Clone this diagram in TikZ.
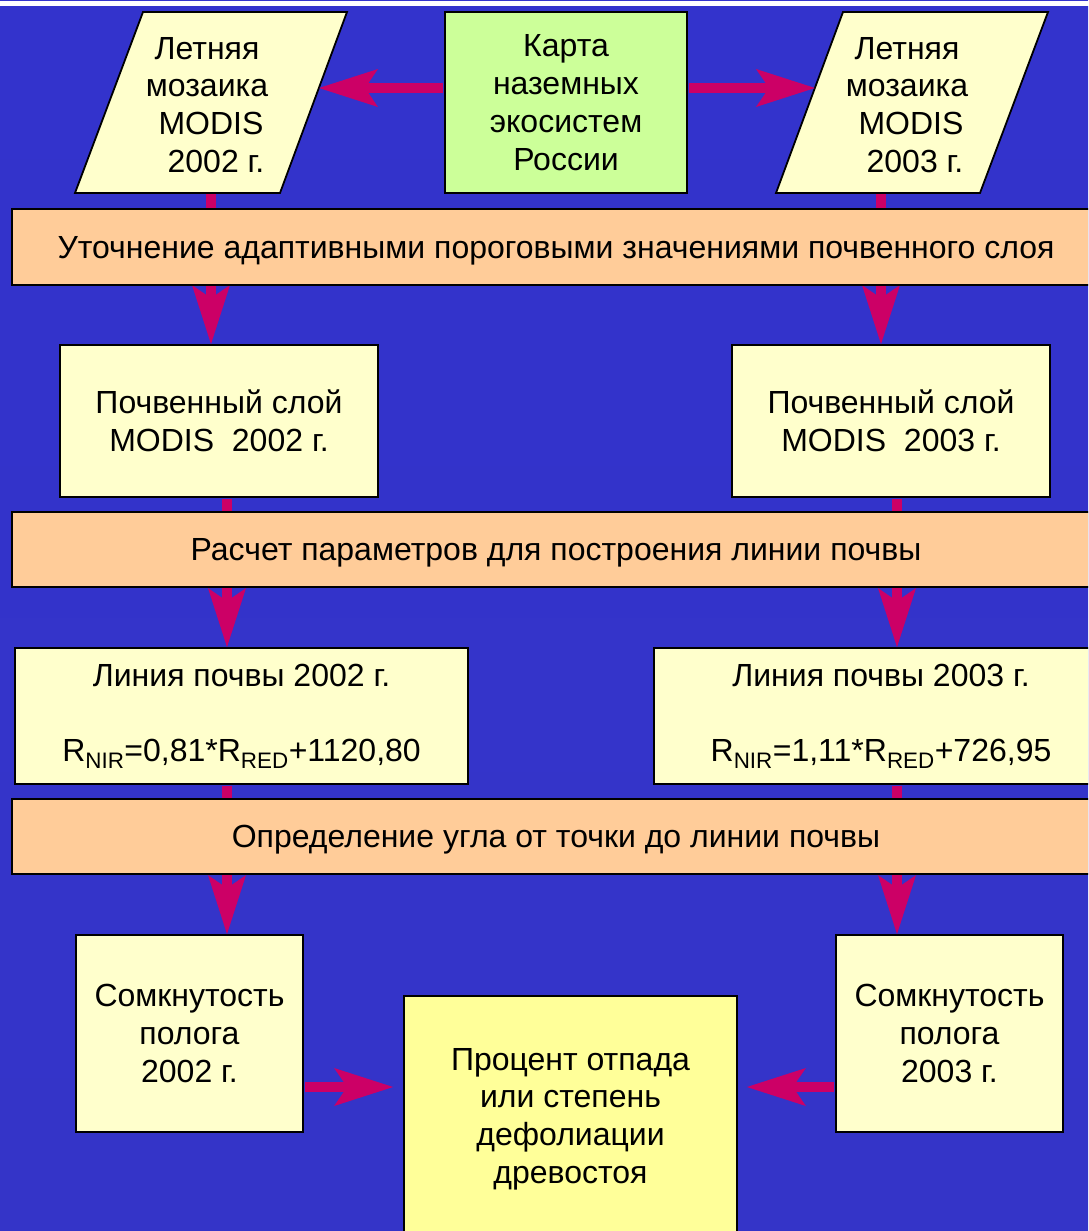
\documentclass[tikz,border=0pt]{standalone}
\usepackage{fontspec}
\setmainfont{Liberation Sans}
\usetikzlibrary{arrows.meta,calc}
\definecolor{pale}{HTML}{FFFFCC}
\definecolor{greenbox}{HTML}{CCFF99}
\definecolor{peach}{HTML}{FFCC99}
\definecolor{yellbox}{HTML}{FFFF99}
\definecolor{arrowc}{HTML}{CC0066}
\definecolor{bgA}{HTML}{3333CC}
\definecolor{bgB}{HTML}{3434F0}
\definecolor{bgC}{HTML}{3434C8}
\begin{document}
\begin{tikzpicture}[x=1pt,y=-1pt,
  txt/.style={font=\fontsize{32}{37.8}\selectfont, align=center, text=black, inner sep=0pt},
  boxst/.style={draw=black, line width=1.8pt, fill=pale, txt},
  barst/.style={draw=black, line width=1.8pt, fill=peach, txt, minimum width=1088pt, text depth=0pt},
  parast/.style={draw=black, line width=1.8pt, fill=pale, line join=miter},
  arr/.style={draw=arrowc, line width=9.5pt, shorten <=1pt,
    -{Stealth[length=59pt,width=38pt,inset=13pt,line width=0pt]}}
]
\useasboundingbox (0,0) rectangle (1088,1231);
\clip (0,0) rectangle (1088,1231);
% background
\fill[white] (0,0) rectangle (1088,1231);
\fill[bgA] (0,0) rectangle (1088,1.4);
\shade[top color=bgA, middle color=bgB, bottom color=bgC] (0,6.7) rectangle (1088,1231);

% parallelograms
\filldraw[parast] (143,12) -- (347,12) -- (280,193) -- (75,193) -- cycle;
\node[txt] (plt) at (207,105) {Летняя\\мозаика\\\hspace*{8pt}MODIS\\\hspace*{18pt}2002 г.};
\filldraw[parast] (843,12) -- (1048,12) -- (980,193) -- (776,193) -- cycle;
\node[txt] (prt) at (907,105) {Летняя\\мозаика\\\hspace*{8pt}MODIS\\\hspace*{16pt}2003 г.};
\coordinate (pLb) at (211,193);
\coordinate (pRb) at (881,193);
\coordinate (pLe) at (319,88);
\coordinate (pRe) at (815,88);

% green box
\node[boxst, fill=greenbox, minimum width=242pt, minimum height=181pt] (g) at (566,102.5)
  {Карта\\наземных\\экосистем\\России};

% boxes
\node[boxst, minimum width=318pt, minimum height=152pt] (s1) at (219,421)
  {Почвенный слой\\MODIS\ \ 2002 г.};
\node[boxst, minimum width=318pt, minimum height=152pt] (s2) at (891,421)
  {Почвенный слой\\MODIS\ \ 2003 г.};
\node[boxst, minimum width=453pt, minimum height=136pt] (l1) at (241.5,716)
  {Линия почвы 2002 г.\\[37.5pt]R\textsubscript{NIR}=0,81*R\textsubscript{RED}+1120,80};
\node[boxst, minimum width=454pt, minimum height=136pt] (l2) at (881,716)
  {Линия почвы 2003 г.\\[37.5pt]R\textsubscript{NIR}=1,11*R\textsubscript{RED}+726,95};
\node[boxst, minimum width=227pt, minimum height=197pt] (c1) at (189.5,1033.5)
  {Сомкнутость\\полога\\2002 г.};
\node[boxst, minimum width=227pt, minimum height=197pt] (c2) at (949.5,1033.5)
  {Сомкнутость\\полога\\2003 г.};
\node[boxst, fill=yellbox, minimum width=333pt, minimum height=246pt] (m) at (570.5,1119)
  {Процент отпада\\или степень\\дефолиации\\древостоя};

% columns
\coordinate (xb1) at (227,0);
\coordinate (xb2) at (897,0);
\coordinate (hy) at (0,1087);

% vertical connectors (behind bars)
\draw[arr] (pLb) -- (s1.north -| pLb);
\draw[arr] (pRb) -- (s2.north -| pRb);
\draw[arr] (s1.south -| xb1) -- (l1.north -| xb1);
\draw[arr] (s2.south -| xb2) -- (l2.north -| xb2);
\draw[arr] (l1.south -| xb1) -- (c1.north -| xb1);
\draw[arr] (l2.south -| xb2) -- (c2.north -| xb2);

% horizontal connectors
\draw[arr] (g.west |- pLe) -- (pLe);
\draw[arr] (g.east |- pRe) -- (pRe);
\draw[arr, shorten >=10pt] (c1.east |- hy) -- (m.west |- hy);
\draw[arr, shorten >=9pt] (c2.west |- hy) -- (m.east |- hy);

% bars
\node[barst, minimum height=76pt] (b1) at (556,247)
  {Уточнение адаптивными пороговыми значениями почвенного слоя};
\node[barst, minimum height=75pt] (b2) at (556,549.5)
  {Расчет параметров для построения линии почвы};
\node[barst, minimum height=75pt] (b3) at (556,836.5)
  {Определение угла от точки до линии почвы};
\end{tikzpicture}
\end{document}
